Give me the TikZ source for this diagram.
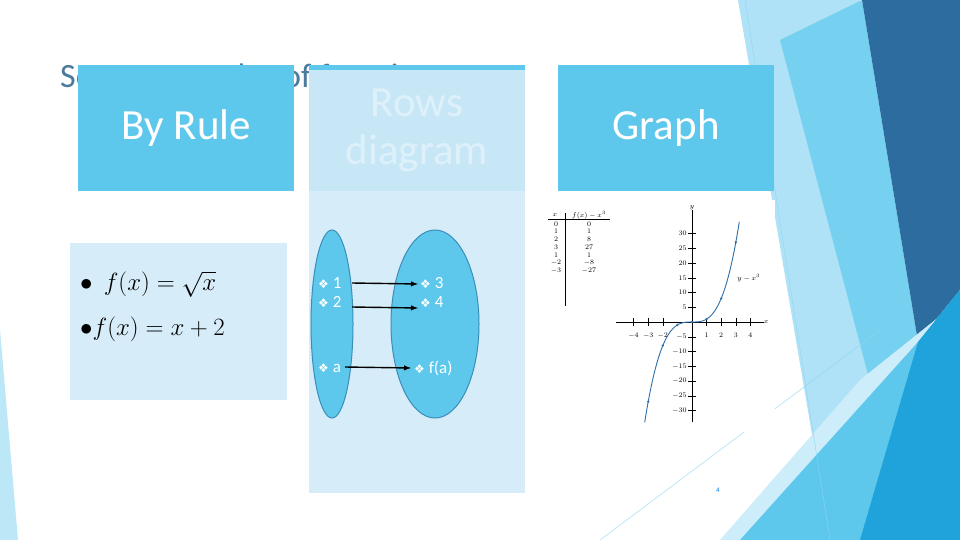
\documentclass[tikz,border=0pt]{standalone}
\usepackage{fontspec}
\setmainfont{Carlito}
\newfontfamily\symf{DejaVu Sans}
\usetikzlibrary{shapes.geometric}
\begin{document}
\begin{tikzpicture}[x=1pt,y=-1pt,
  hdr/.style={fill=cyanA,draw=none,minimum width=216pt,minimum height=126pt,anchor=north west,text=white,font=\fontsize{43}{48}\selectfont,align=center},
  panel/.style={fill=paleB,draw=none,anchor=north west},
  item/.style={text=white,font=\fontsize{17}{19}\selectfont,anchor=west,inner sep=0pt},
  arr/.style={-latex,black,line width=1.4pt},
  ell/.style={fill=cyanA,draw=edgeB,line width=1pt},
  tiny/.style={font=\fontsize{7}{8}\selectfont,inner sep=0pt}]
\definecolor{cyanA}{HTML}{5EC8EC}
\definecolor{paleB}{HTML}{D6ECF8}
\definecolor{paleC}{HTML}{C8E7F6}
\definecolor{edgeB}{HTML}{3A8EB8}
\definecolor{titleC}{HTML}{4A7A9C}
\definecolor{darkB}{HTML}{2C6C9E}
\definecolor{lightB}{HTML}{8DD6F2}
\definecolor{midB}{HTML}{1FA3DA}
\definecolor{curveC}{HTML}{2F6FA8}
\useasboundingbox (0,0) rectangle (960,540);
\fill[white] (0,0) rectangle (960,540);
% background decoration
\fill[lightB!70] (738,0) -- (860,0) -- (918,342) -- (860,540) -- (830,540) -- cycle;
\fill[cyanA!85] (780,40) -- (862,0) -- (918,342) -- (880,420) -- cycle;
\fill[darkB] (862,0) -- (960,0) -- (960,290) -- (918,342) -- cycle;
\fill[lightB!45] (720,540) -- (860,380) -- (960,300) -- (960,540) -- cycle;
\fill[cyanA] (740,540) -- (918,342) -- (960,290) -- (960,540) -- cycle;
\fill[midB] (860,540) -- (918,342) -- (960,290) -- (960,540) -- cycle;
\fill[lightB!60] (0,330) -- (18,540) -- (0,540) -- cycle;
\draw[lightB,line width=0.4pt] (745,0) -- (830,540);
\draw[lightB,line width=0.4pt] (600,540) -- (880,330);
% title
\node[anchor=base west,text=titleC,font=\fontsize{34}{36}\selectfont,inner sep=0pt] (title) at (60,88) {Some Examples of functions};
% header boxes
\node[hdr] (rule) at (78,65) {By Rule};
\node[panel,minimum width=216pt,minimum height=428pt] (rowspanel) at (309,65) {};
\node[hdr,fill=paleC] (rows) at (309,65) {};
\fill[cyanA] (rows.north west) rectangle ([yshift=-5pt]rows.north east);
\node[text=white!40!paleC,font=\fontsize{43}{48}\selectfont,align=center] (rowst) at (417,130) {Rows\\diagram};
\node[hdr] (graph) at (558,65) {Graph};
% rule panel
\node[panel,minimum width=217pt,minimum height=157pt] (rulepanel) at (70,243) {};
\node[anchor=west,font=\fontsize{31}{33}\selectfont,inner sep=0pt] (r1) at (80,284) {$\bullet\ \, f(x)=\sqrt{x}$};
\node[anchor=west,font=\fontsize{31}{33}\selectfont,inner sep=0pt] (r2) at (80,329) {$\bullet f(x)=x+2$};
% rows diagram
\node[ell,ellipse,minimum width=42pt,minimum height=188pt,inner sep=0pt] (dom) at (332,324) {};
\node[ell,ellipse,minimum width=88pt,minimum height=188pt,inner sep=0pt] (cod) at (435,324) {};
\node[item] (a1) at (318,283) {{\symf\fontsize{12}{14}\selectfont ❖} 1};
\node[item] (a2) at (318,302) {{\symf\fontsize{12}{14}\selectfont ❖} 2};
\node[item] (a3) at (318,368) {{\symf\fontsize{12}{14}\selectfont ❖} a};
\node[item] (b1) at (420,283) {{\symf\fontsize{12}{14}\selectfont ❖} 3};
\node[item] (b2) at (420,302) {{\symf\fontsize{12}{14}\selectfont ❖} 4};
\node[item] (b3) at (414,368) {{\symf\fontsize{12}{14}\selectfont ❖} f(a)};
\coordinate (s1) at (352,283); \coordinate (s2) at (352,307); \coordinate (s3) at (345,367);
\coordinate (t1) at (418,284); \coordinate (t2) at (418,308); \coordinate (t3) at (411,368);
\draw[arr] (s1) -- (t1);
\draw[arr] (s2) -- (t2);
\draw[arr] (s3) -- (t3);
% graph panel
\fill[white] (540,200) rectangle (775,432);
% table
\draw[line width=0.5pt] (548,219) -- (610,219);
\draw[line width=0.5pt] (565,213) -- (565,306);
\node[tiny] (th1) at (555,215) {$x$};
\node[tiny] (th2) at (589,215) {$f(x)-x^3$};
\foreach \a/\b [count=\i] in {0/0,1/1,2/8,3/27,1/1,-2/-8,-3/-27}{
  \node[tiny] at (556,{216+\i*7.8}) {$\a$};
  \node[tiny] at (589,{216+\i*7.8}) {$\b$};
}
% axes
\begin{scope}[shift={(692,322)},x=14.6pt,y=2.95pt]
\draw[line width=0.5pt] (-5.2,0) -- (4.9,0);
\draw[line width=0.5pt] (0,-34) -- (0,38);
\node[tiny,anchor=west] at (4.9,0) {$x$};
\node[tiny,anchor=south] at (0,38) {$y$};
\foreach \t in {-4,-3,-2,1,2,3,4}{\draw (\t,-1.2) -- (\t,1.2); \node[tiny] at (\t,-4.5) {$\t$};}
\foreach \t in {-30,-25,-20,-15,-10,-5,5,10,15,20,25,30}{\draw (-0.25,\t) -- (0.25,\t); \node[tiny,anchor=east] at (-0.35,\t) {$\t$};}
\draw[curveC,line width=0.9pt,domain=-3.24:3.24,samples=80] plot (\x,{\x*\x*\x});
\foreach \p in {-3,-2,-1,0,1,2,3}{\fill[curveC] (\p,{\p*\p*\p}) circle (1.3pt);}
\node[tiny,anchor=west] at (3.1,15) {$y-x^3$};
\end{scope}
\node[text=cyanA!80!blue,font=\fontsize{7}{8}\selectfont\bfseries] (pg) at (718,490) {4};
\end{tikzpicture}
\end{document}
